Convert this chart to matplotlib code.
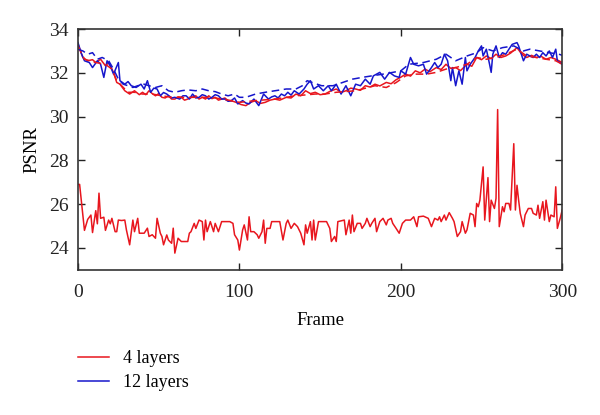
import matplotlib
matplotlib.use("Agg")
import matplotlib.pyplot as plt

plt.rcParams['font.family'] = ['Liberation Serif', 'DejaVu Serif']

# ---- data ----
low4_x = [0, 1, 2, 4, 6, 8, 9, 11, 12, 13, 14, 16, 17, 19, 20, 21, 23, 24, 25, 27, 29, 30, 32, 34, 35, 37, 38,
          41, 43, 44, 46, 48, 49, 51, 52, 53, 55, 56, 58, 59, 60, 62, 64, 66, 68, 69, 70, 72, 73, 75, 77, 78,
          79, 80, 82, 84, 85, 87, 89, 94, 96, 97, 99, 100, 102, 103, 105, 106, 107, 109, 111, 112, 114, 115,
          116, 117, 119, 120, 125, 127, 129, 130, 132, 134, 136, 138, 140, 141, 142, 144, 145, 146, 147, 149,
          154, 156, 157, 159, 160, 161, 165, 166, 168, 169, 170, 171, 173, 175, 176, 178, 179, 181, 182, 184,
          185, 187, 189, 191, 192, 194, 195, 197, 199, 201, 203, 206, 208, 210, 211, 214, 217, 219, 221, 223,
          224, 225, 227, 228, 230, 232, 233, 235, 237, 238, 240, 241, 243, 245, 246, 247, 248, 249, 251, 252,
          254, 255, 256, 258, 259, 260, 261, 263, 264, 265, 267, 268, 270, 271, 272, 273, 274, 276, 277, 279,
          281, 282, 284, 285, 286, 288, 289, 290, 292, 293, 295, 296, 297, 299, 300]
low4_y = [26.9, 26.9, 26.2, 24.8, 25.3, 25.5, 24.7, 25.7, 25.1, 26.5, 25.35, 25.4, 24.8, 25.27, 25.1, 25.35,
          24.74, 24.74, 25.27, 25.25, 25.27, 24.82, 24.14, 25.27, 24.74, 25.35, 24.67, 24.67, 24.9, 24.52,
          24.6, 24.44, 25.35, 24.67, 24.52, 24.14, 24.59, 24.36, 24.21, 24.9, 23.76, 24.44, 24.29, 24.29,
          24.29, 24.67, 24.74, 25.12, 24.89, 25.27, 25.2, 24.36, 25.27, 24.74, 25.2, 24.74, 25.12, 24.74,
          25.2, 25.2, 25.12, 24.6, 24.36, 23.9, 24.82, 25.05, 24.36, 25.42, 24.74, 24.74, 24.6, 24.44, 24.74,
          25.27, 24.21, 24.89, 24.89, 25.2, 25.2, 24.36, 25.12, 25.27, 24.89, 25.12, 24.97, 24.67, 24.14,
          25.05, 24.67, 25.2, 24.36, 25.27, 24.36, 25.2, 25.2, 24.89, 24.29, 24.52, 24.29, 25.2, 25.27, 24.6,
          25.27, 24.67, 25.5, 24.74, 25.12, 25.12, 24.89, 25.12, 25.35, 24.97, 25.12, 25.35, 24.74, 25.2,
          25.35, 25.05, 25.27, 25.35, 25.12, 24.9, 24.67, 25.12, 25.27, 25.27, 25.42, 24.97, 25.42, 25.45,
          25.35, 24.97, 25.35, 25.27, 25.42, 25.2, 25.5, 25.27, 25.61, 25.35, 25.2, 24.52, 24.74, 25.2, 24.67,
          24.82, 25.58, 25.5, 24.97, 26.03, 25.88, 26.18, 27.7, 25.27, 27.21, 25.2, 26.18, 25.8, 26.26, 30.32,
          24.97, 25.88, 25.65, 26.03, 26.03, 25.73, 28.76, 25.73, 26.86, 26.18, 25.58, 24.97, 25.5, 25.8,
          25.8, 25.58, 25.5, 25.95, 25.35, 26.11, 25.27, 26.18, 25.2, 25.5, 25.42, 26.79, 24.89, 25.42, 25.73]

up12_x = [0, 2, 4, 7, 9, 12, 14, 16, 18, 20, 22, 25, 26, 29, 31, 33, 36, 39, 41, 43, 45, 47, 49, 51, 53, 55,
          58, 60, 63, 65, 67, 69, 71, 73, 75, 77, 79, 81, 83, 85, 87, 89, 91, 93, 95, 97, 99, 102, 104, 106,
          109, 112, 115, 118, 120, 122, 124, 126, 128, 130, 132, 134, 137, 140, 142, 144, 146, 149, 152, 155,
          157, 160, 163, 166, 169, 172, 175, 178, 181, 183, 187, 190, 193, 196, 199, 200, 203, 206, 208, 211,
          214, 216, 219, 221, 223, 225, 227, 229, 231, 232, 234, 236, 238, 240, 241, 243, 246, 248, 250, 251,
          253, 255, 256, 257, 259, 261, 263, 265, 267, 269, 272, 273, 274, 276, 278, 280, 282, 284, 286, 288,
          290, 292, 294, 296, 297, 300]
up12_y = [33.38, 32.9, 32.55, 32.47, 32.24, 32.55, 32.39, 31.79, 32.55, 32.32, 31.94, 32.47, 31.64, 31.48,
          31.6, 31.41, 31.33, 31.48, 31.26, 31.64, 31.11, 31.3, 31.26, 30.95, 31.1, 31.03, 30.85, 30.88, 30.8,
          30.95, 30.95, 30.8, 31.03, 30.85, 30.88, 31.0, 30.95, 30.8, 30.88, 31.0, 30.95, 30.8, 30.8, 30.7,
          30.73, 30.85, 30.58, 30.73, 30.62, 30.58, 30.8, 30.5, 31.03, 30.8, 30.9, 30.95, 30.85, 31.03, 30.95,
          31.11, 30.98, 31.18, 31.03, 31.26, 31.48, 31.64, 31.26, 31.41, 31.18, 31.41, 31.18, 31.48, 31.03,
          31.41, 30.95, 31.48, 31.41, 31.71, 31.48, 31.86, 32.02, 31.71, 32.02, 31.86, 31.79, 32.09, 31.94,
          32.7, 32.39, 32.32, 32.39, 31.94, 32.24, 32.47, 32.24, 32.39, 32.85, 32.55, 31.64, 32.24, 31.41,
          32.09, 31.48, 32.7, 32.09, 32.39, 32.7, 33.0, 33.23, 32.77, 33.08, 32.39, 32.02, 32.85, 33.23, 32.7,
          32.92, 32.85, 33.08, 33.3, 33.38, 33.23, 33.0, 32.55, 32.85, 32.77, 32.7, 32.85, 32.7, 32.92, 32.77,
          33.0, 32.7, 33.08, 32.55, 32.39]

up4_x = [0, 3, 6, 9, 11, 14, 17, 19, 22, 24, 26, 29, 32, 35, 38, 40, 42, 44, 46, 48, 50, 52, 54, 56, 58, 60,
         62, 64, 66, 68, 71, 73, 75, 77, 79, 81, 83, 85, 87, 89, 91, 93, 96, 98, 101, 104, 107, 110, 113, 116,
         119, 122, 125, 129, 132, 135, 138, 141, 144, 147, 150, 153, 156, 160, 163, 166, 169, 172, 175, 178,
         181, 184, 187, 191, 194, 197, 200, 203, 206, 209, 212, 215, 218, 222, 225, 228, 231, 234, 237, 241,
         244, 247, 250, 253, 256, 259, 262, 265, 268, 272, 275, 278, 281, 284, 287, 290, 293, 296, 298, 300]
up4_y = [33.3, 32.7, 32.55, 32.6, 32.47, 32.62, 32.32, 32.47, 32.02, 31.56, 31.48, 31.18, 31.03, 31.18, 31.0,
         31.11, 31.0, 31.18, 31.05, 30.95, 31.05, 30.88, 30.85, 30.95, 30.8, 30.8, 30.9, 30.88, 30.75, 30.8,
         30.9, 30.95, 30.8, 30.88, 30.8, 30.95, 30.82, 30.88, 30.75, 30.8, 30.85, 30.73, 30.7, 30.65, 30.55,
         30.5, 30.65, 30.73, 30.6, 30.65, 30.75, 30.8, 30.75, 30.88, 30.85, 31.03, 30.95, 31.18, 31.05, 31.11,
         31.0, 31.03, 31.15, 31.26, 31.1, 31.18, 31.3, 31.26, 31.2, 31.41, 31.35, 31.48, 31.4, 31.56, 31.5,
         31.68, 31.8, 31.94, 31.85, 32.09, 32.0, 32.17, 32.05, 32.24, 32.15, 32.39, 32.2, 32.24, 32.1, 32.39,
         32.3, 32.7, 32.6, 32.77, 32.65, 32.85, 32.7, 32.77, 32.9, 33.15, 32.85, 32.7, 32.8, 32.7, 32.75,
         32.62, 32.7, 32.62, 32.55, 32.47]

up4d_x = [0, 4, 11, 17, 21, 24, 27, 31, 35, 40, 46, 52, 58, 64, 71, 77, 83, 89, 95, 100, 110, 122, 135, 147,
          153, 160, 172, 184, 191, 197, 203, 209, 216, 222, 228, 234, 241, 247, 253, 259, 265, 272, 278, 284,
          290, 296, 300]
up4d_y = [33.23, 32.62, 32.47, 32.39, 32.17, 31.64, 31.41, 31.11, 31.11, 31.03, 31.03, 30.95, 30.88, 30.88,
          30.88, 30.88, 30.88, 30.8, 30.73, 30.65, 30.73, 30.8, 30.95, 31.03, 31.03, 31.11, 31.18, 31.41,
          31.33, 31.55, 31.86, 31.94, 31.94, 32.02, 32.17, 32.24, 32.39, 32.7, 32.62, 32.7, 32.85, 33.08,
          32.77, 32.7, 32.62, 32.55, 32.39]

up12d_x = [0, 3, 6, 9, 12, 15, 19, 22, 25, 28, 31, 34, 37, 41, 44, 48, 52, 56, 60, 64, 68, 73, 77, 81, 85,
           89, 93, 97, 100, 104, 110, 116, 122, 129, 135, 139, 142, 145, 151, 158, 164, 170, 176, 182, 189,
           195, 200, 205, 214, 222, 228, 234, 241, 247, 251, 257, 263, 270, 276, 280, 286, 292, 298, 300]
up12d_y = [33.08, 33.0, 32.85, 32.92, 32.62, 32.7, 32.55, 32.17, 31.71, 31.48, 31.41, 31.33, 31.41, 31.48,
           31.41, 31.33, 31.41, 31.18, 31.11, 31.18, 31.22, 31.18, 31.26, 31.18, 31.14, 31.03, 30.95, 31.03,
           30.88, 30.88, 31.03, 31.11, 31.18, 31.26, 31.26, 31.41, 31.64, 31.56, 31.41, 31.41, 31.56, 31.71,
           31.79, 31.86, 31.94, 32.02, 32.09, 32.39, 32.47, 32.62, 32.85, 32.55, 32.77, 32.92, 33.15, 33.0,
           33.15, 33.23, 33.0, 33.08, 33.0, 32.92, 32.85, 32.8]

x_ticks = [0, 100, 200, 300]
y_ticks = [24, 26, 28, 30, 32, 34]
labels = ['4 layers', '12 layers']

RED = '#e8161e'
BLUE = '#1616cc'

fig = plt.figure(figsize=(6.0, 4.15), dpi=100)
ax = fig.add_axes([0.130, 0.350, 0.807, 0.580])

l4, = ax.plot(low4_x, low4_y, color=RED, lw=1.1)
ax.plot(up4_x, up4_y, color=RED, lw=1.1)
l12, = ax.plot(up12_x, up12_y, color=BLUE, lw=1.1)
ax.plot(up4d_x, up4d_y, color=RED, lw=1.1, ls=(0, (5, 3)))
ax.plot(up12d_x, up12d_y, color=BLUE, lw=1.1, ls=(0, (5, 3)))

ax.set_xlim(0, 300)
ax.set_ylim(23, 34)
ax.set_xticks(x_ticks)
ax.set_yticks(y_ticks)
ax.tick_params(direction='in', top=True, right=True, length=5, width=1.0,
               labelsize=14, colors='#222222')
ax.tick_params(axis='x', pad=10)
ax.tick_params(axis='y', pad=7)
for s in ax.spines.values():
    s.set_linewidth(1.2)
    s.set_color('#333333')
ax.set_xlabel('Frame', fontsize=13.5, labelpad=8)
ax.set_ylabel('PSNR', fontsize=13.5, labelpad=6)

fig.legend([l4, l12], labels, loc='upper left', bbox_to_anchor=(0.130, 0.157),
           frameon=False, fontsize=13, handlelength=1.7, handletextpad=0.8,
           labelspacing=0.42, borderaxespad=0, borderpad=0)

fig.savefig('out.png', dpi=100)
